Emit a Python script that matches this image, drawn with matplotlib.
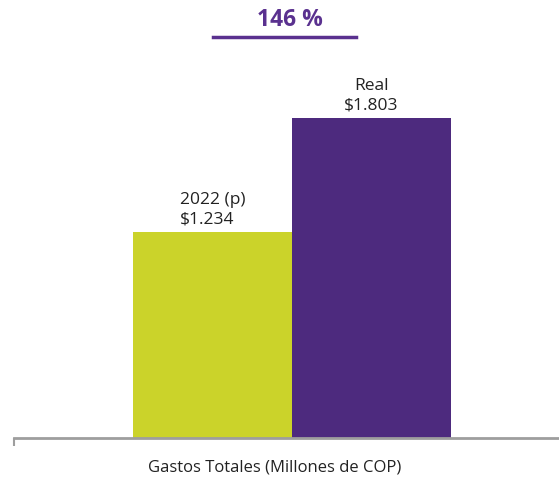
import matplotlib
matplotlib.use("Agg")
import matplotlib.pyplot as plt

# Data
categories = ["2022 (p)", "Real"]
values = [1234, 1803]
value_labels = ["\\$1.234", "\\$1.803"]
pct_label = "146 %"
xlabel = "Gastos Totales (Millones de COP)"

GREEN = "#CBD32A"
PURPLE = "#4D2A7E"
TITLE_PURPLE = "#5A318F"
AXIS_GRAY = "#9E9E9E"

plt.rcParams["font.family"] = ["Open Sans", "DejaVu Sans"]

fig = plt.figure(figsize=(5.59, 4.78), dpi=100)
W, H = 559, 478
# axes: left 14px, right 559px, top 60px, bottom 438px
ax = fig.add_axes([14 / W, (H - 438) / H, (559 - 14) / W, (438 - 60) / H])

xs = list(range(len(categories)))
ax.bar(xs, values, width=1.0, color=[GREEN, PURPLE], linewidth=0)
ax.set_xlim(-1.248, 2.179)
ax.set_ylim(206, 2092)

for s in ["top", "right", "left"]:
    ax.spines[s].set_visible(False)
ax.spines["bottom"].set_color(AXIS_GRAY)
ax.spines["bottom"].set_linewidth(2)
ax.set_yticks([])
ax.set_xticks([-1.248])
ax.set_xticklabels([""])
ax.tick_params(axis="x", length=6, width=1.5, color=AXIS_GRAY)

fig.text(275 / W, 1 - 467 / H, xlabel, ha="center", va="center",
         fontsize=12, color="#222222")

# bar annotations
ax.annotate(categories[0] + "\n" + value_labels[0], xy=(xs[0], values[0]),
            xytext=(0, 3), textcoords="offset points", ha="center", va="bottom",
            multialignment="left", fontsize=12.5, color="#222222", linespacing=1.3)
ax.annotate(categories[1] + "\n" + value_labels[1], xy=(xs[1], values[1]),
            xytext=(0, 3), textcoords="offset points", ha="center", va="bottom",
            multialignment="center", fontsize=12.5, color="#222222", linespacing=1.3)

# percentage header with underline
fig.text(290 / W, 1 - 20 / H, pct_label, ha="center", va="center",
         fontsize=16.5, fontweight="bold", color=TITLE_PURPLE)
fig.add_artist(plt.Line2D([213 / W, 356 / W], [1 - 37 / H, 1 - 37 / H],
                          color=TITLE_PURPLE, linewidth=2.5,
                          transform=fig.transFigure))

fig.savefig("out.png", dpi=100)
